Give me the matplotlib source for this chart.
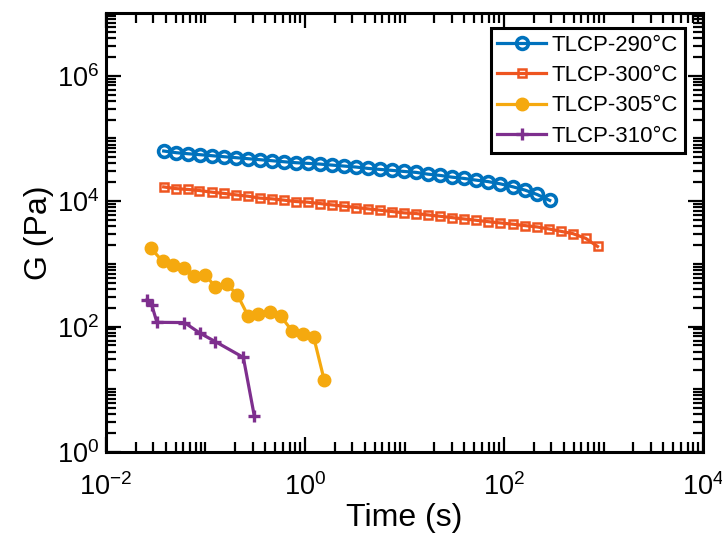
import numpy as np
import matplotlib
matplotlib.use("Agg")
import matplotlib.pyplot as plt
from matplotlib.ticker import FixedLocator, NullFormatter

plt.rcParams['font.family'] = ['Liberation Sans', 'DejaVu Sans']
plt.rcParams['mathtext.fontset'] = 'custom'
plt.rcParams['mathtext.rm'] = 'Liberation Sans'
plt.rcParams['mathtext.it'] = 'Liberation Sans'

# ---- data ----
t_290 = [0.038, 0.051, 0.067, 0.089, 0.117, 0.154, 0.203, 0.268, 0.353, 0.466,
         0.614, 0.809, 1.07, 1.41, 1.85, 2.49, 3.28, 4.33, 5.70, 7.52,
         9.91, 13.1, 17.2, 22.7, 29.9, 39.4, 52.0, 68.5, 92.0, 124,
         163, 215, 288]
G_290 = [63100, 59300, 57100, 55100, 53100, 51200, 49400, 47600, 45900, 44200,
         42600, 41100, 40100, 39100, 37700, 36300, 35000, 33300, 32100, 31000,
         29800, 28800, 27000, 25800, 24200, 23100, 21700, 20600, 18900, 16900,
         15000, 12800, 10300]

t_300 = [0.038, 0.050, 0.066, 0.087, 0.117, 0.154, 0.203, 0.268, 0.353, 0.466,
         0.614, 0.809, 1.07, 1.41, 1.85, 2.49, 3.28, 4.33, 5.70, 7.52,
         9.91, 13.1, 17.2, 22.7, 29.9, 39.4, 52.0, 68.5, 92.0, 124,
         163, 215, 283, 373, 492, 661, 871]
G_300 = [16900, 15900, 15400, 14800, 13900, 13300, 12600, 12000, 11200, 10900,
         10400, 9880, 9640, 9180, 8740, 8320, 7920, 7540, 7180, 6840,
         6510, 6350, 6040, 5750, 5480, 5220, 4970, 4730, 4500, 4290,
         4080, 3890, 3610, 3310, 3040, 2560, 1900]

t_305 = [0.0283, 0.0370, 0.0470, 0.0603, 0.0773, 0.100, 0.126, 0.163, 0.209,
         0.270, 0.340, 0.445, 0.575, 0.738, 0.955, 1.22, 1.56]
G_305 = [1790, 1096, 946, 847, 631, 663, 426, 482, 321,
         145, 160, 174, 145, 86, 76, 69, 14]

t_310 = [0.0256, 0.0288, 0.0325, 0.0614, 0.0887, 0.126, 0.240, 0.310]
G_310 = [267, 222, 117, 116, 78, 57.5, 32.3, 3.7]

labels = ['TLCP-290°C', 'TLCP-300°C', 'TLCP-305°C', 'TLCP-310°C']
colors = ['#0072BD', '#EE5520', '#F5A90F', '#7E2F8E']

xticks = [1e-2, 1e0, 1e2, 1e4]
xticklabels = [r'$\mathregular{10^{-2}}$', r'$\mathregular{10^{0}}$',
               r'$\mathregular{10^{2}}$', r'$\mathregular{10^{4}}$']
yticks = [1e0, 1e2, 1e4, 1e6]
yticklabels = [r'$\mathregular{10^{0}}$', r'$\mathregular{10^{2}}$',
               r'$\mathregular{10^{4}}$', r'$\mathregular{10^{6}}$']

fig = plt.figure(figsize=(7.22, 5.45), dpi=100)
ax = fig.add_axes([0.1468, 0.1706, 0.8269, 0.8054])

lw = 2.3
ax.plot(t_290, G_290, '-o', color=colors[0], lw=lw, ms=8.5, mfc='none', mew=2.6, label=labels[0])
ax.plot(t_300, G_300, '-s', color=colors[1], lw=lw, ms=6, mfc='none', mew=1.8, label=labels[1])
ax.plot(t_305, G_305, '-o', color=colors[2], lw=lw, ms=9, mfc=colors[2], mew=1.0, label=labels[2])
ax.plot(t_310, G_310, '-+', color=colors[3], lw=lw, ms=9, mew=2.4, label=labels[3])

ax.set_xscale('log')
ax.set_yscale('log')
ax.set_xlim(1e-2, 1e4)
ax.set_ylim(1e0, 1e7)

def minor_locs(lo, hi):
    locs = []
    for e in range(lo, hi):
        for m in range(1, 10):
            v = m * 10.0 ** e
            if m == 1 and e % 2 == 0:
                continue
            locs.append(v)
    return locs

ax.xaxis.set_major_locator(FixedLocator(xticks))
ax.set_xticklabels(xticklabels)
ax.xaxis.set_minor_locator(FixedLocator(minor_locs(-2, 4)))
ax.xaxis.set_minor_formatter(NullFormatter())
ax.yaxis.set_major_locator(FixedLocator(yticks))
ax.set_yticklabels(yticklabels)
ax.yaxis.set_minor_locator(FixedLocator(minor_locs(0, 7)))
ax.yaxis.set_minor_formatter(NullFormatter())

ax.tick_params(which='both', direction='in', top=True, right=True, width=1.6, colors='black')
ax.tick_params(which='major', length=11, labelsize=19.5)
ax.tick_params(which='minor', length=7)
ax.tick_params(axis='x', which='major', pad=15)
ax.tick_params(axis='y', which='major', pad=5)
for s in ax.spines.values():
    s.set_linewidth(2.2)

ax.set_xlabel('Time (s)', fontsize=23, labelpad=2)
ax.set_ylabel('G (Pa)', fontsize=23, labelpad=2)

leg = ax.legend(loc='upper right', bbox_to_anchor=(0.970, 0.966), borderaxespad=0,
                fontsize=16, frameon=True, fancybox=False, framealpha=1,
                edgecolor='black', handlelength=2.2, handletextpad=0.25,
                labelspacing=0.42, borderpad=0.3)
leg.get_frame().set_linewidth(2.2)

fig.savefig('out.png', dpi=100)
